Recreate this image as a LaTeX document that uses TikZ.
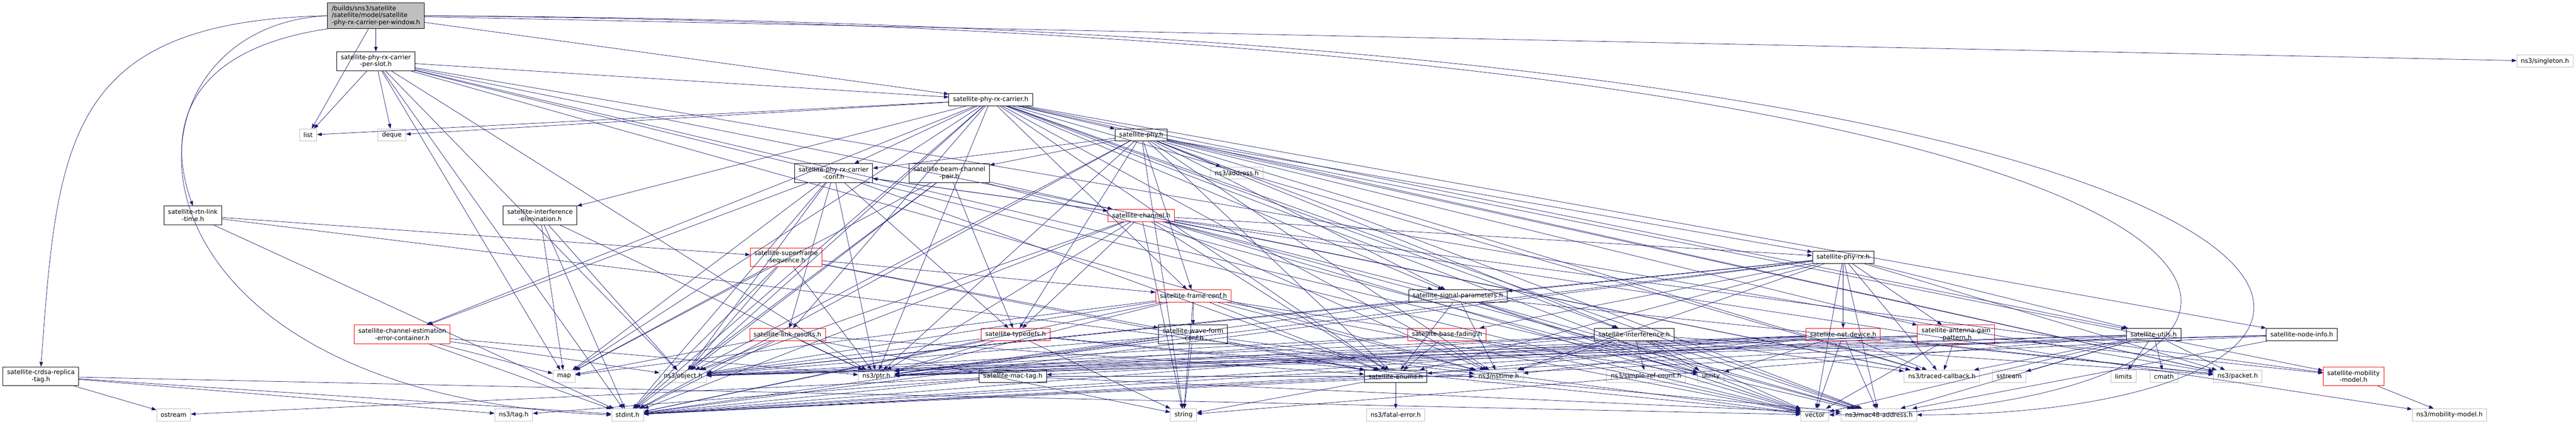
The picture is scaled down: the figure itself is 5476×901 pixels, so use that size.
\documentclass[tikz,border=0pt]{standalone}
\usepackage{fontspec}
\setmainfont{DejaVu Sans}
\usetikzlibrary{arrows.meta}
\definecolor{kante}{HTML}{191970}
\definecolor{grau}{HTML}{BFBFBF}

\begin{document}
\begin{tikzpicture}[x=0.75pt, y=-0.75pt,
    datei/.style={draw=black, fill=white, rectangle, line width=0.75pt, font=\fontsize{10}{11.25}\selectfont, inner xsep=6.5pt, inner ysep=2pt, minimum height=19.5pt, align=center},
    sysdatei/.style={datei, draw=grau},
    rotdatei/.style={datei, draw=red},
    wurzel/.style={datei, fill=grau, align=left, minimum height=41pt},
    zwei/.style={minimum height=30pt},
    dep/.style={draw=kante, line width=0.6pt, -{Triangle[length=7.5pt,width=5.5pt]}}]

    \useasboundingbox (0,0) rectangle (5476,901);

    % Wurzel
    \node[wurzel] (root) at (799,33.5) {/builds/sns3/satellite\\/satellite/model/satellite\\-phy-rx-carrier-per-window.h};

    % Ebene 2 bis 8
    \node[datei, zwei] (slot) at (799,130) {satellite-phy-rx-carrier\\-per-slot.h};
    \node[sysdatei] (singleton) at (5410,130) {ns3/singleton.h};
    \node[datei] (carrier) at (2106,212) {satellite-phy-rx-carrier.h};
    \node[sysdatei] (list) at (655,287) {list};
    \node[sysdatei] (deque) at (833,287) {deque};
    \node[datei] (phy) at (2426,287) {satellite-phy.h};
    \node[datei, zwei] (rxconf) at (1772,368) {satellite-phy-rx-carrier\\-conf.h};
    \node[datei, zwei] (beampair) at (2018,368) {satellite-beam-channel\\-pair.h};
    \node[sysdatei] (address) at (2629,368) {ns3/address.h};
    \node[datei, zwei] (rtntime) at (410,458) {satellite-rtn-link\\-time.h};
    \node[datei, zwei] (intelim) at (1148,458) {satellite-interference\\-elimination.h};
    \node[rotdatei] (channel) at (2426,458) {satellite-channel.h};
    \node[rotdatei, zwei] (superframe) at (1671,547) {satellite-superframe\\-sequence.h};
    \node[datei] (phyrx) at (3918,547) {satellite-phy-rx.h};
    \node[rotdatei] (frameconf) at (2537,629) {satellite-frame-conf.h};
    \node[datei] (sigparam) at (3099,629) {satellite-signal-parameters.h};

    % Ebene 9
    \node[rotdatei, zwei] (chestim) at (855,711) {satellite-channel-estimation\\-error-container.h};
    \node[rotdatei] (linkres) at (1674,711) {satellite-link-results.h};
    \node[rotdatei] (typedefs) at (2159,711) {satellite-typedefs.h};
    \node[datei, zwei] (waveform) at (2536,711) {satellite-wave-form\\-conf.h};
    \node[rotdatei] (basefading) at (3076,711) {satellite-base-fading.h};
    \node[datei] (interf) at (3474,711) {satellite-interference.h};
    \node[rotdatei] (netdev) at (3918,711) {satellite-net-device.h};
    \node[rotdatei, zwei] (antenna) at (4158,711) {satellite-antenna-gain\\-pattern.h};
    \node[datei] (utils) at (4578,711) {satellite-utils.h};
    \node[datei] (nodeinfo) at (4893,711) {satellite-node-info.h};

    % Ebene 10
    \node[datei, zwei] (crdsa) at (87,800) {satellite-crdsa-replica\\-tag.h};
    \node[sysdatei] (map) at (1199,800) {map};
    \node[sysdatei] (object) at (1452,800) {ns3/object.h};
    \node[sysdatei] (ptr) at (1863,800) {ns3/ptr.h};
    \node[datei] (mactag) at (2153,800) {satellite-mac-tag.h};
    \node[datei] (enums) at (2967,800) {satellite-enums.h};
    \node[sysdatei] (nstime) at (3186,800) {ns3/nstime.h};
    \node[sysdatei] (simpleref) at (3499,800) {ns3/simple-ref-count.h};
    \node[sysdatei] (utility) at (3637,800) {utility};
    \node[sysdatei] (traced) at (4128,800) {ns3/traced-callback.h};
    \node[sysdatei] (sstream) at (4271,800) {sstream};
    \node[sysdatei] (limits) at (4514,800) {limits};
    \node[sysdatei] (cmath) at (4600,800) {cmath};
    \node[sysdatei] (packet) at (4757,800) {ns3/packet.h};
    \node[rotdatei, zwei] (satmob) at (5003,800) {satellite-mobility\\-model.h};

    % Ebene 11
    \node[sysdatei] (ostream) at (369,882) {ostream};
    \node[sysdatei] (tag) at (1092,882) {ns3/tag.h};
    \node[sysdatei] (stdint) at (1334,882) {stdint.h};
    \node[sysdatei] (string) at (2516,882) {string};
    \node[sysdatei] (fatal) at (2967,882) {ns3/fatal-error.h};
    \node[sysdatei] (vector) at (3858,882) {vector};
    \node[sysdatei] (mac48) at (3994,882) {ns3/mac48-address.h};
    \node[sysdatei] (mobility) at (5207,882) {ns3/mobility-model.h};

    % Abhaengigkeiten der Wurzel (Boegen)
    \draw[dep] (root.west) .. controls (140,45) and (122,300) .. (crdsa.north);
    \draw[dep] (root.west) .. controls (220,55) and (200,840) .. (stdint.west);
    \draw[dep] (root.south west) .. controls (370,110) and (360,300) .. (rtntime.north);
    \draw[dep] (root.east) .. controls (5300,55) and (5330,880) .. (mac48.east);
    \draw[dep] (root.east) .. controls (5200,70) and (5150,870) .. (vector.east);
    \path (root) edge[dep] (slot) edge[dep] (list) edge[dep] (carrier) edge[dep] (singleton);

    % weitere Abhaengigkeiten
    \path (slot) edge[dep] (carrier) edge[dep] (list) edge[dep] (deque) edge[dep] (map) edge[dep] (stdint)
        edge[dep] (object) edge[dep] (ptr) edge[dep] (nstime) edge[dep] (traced) edge[dep] (packet)
        edge[dep] (vector) edge[dep] (mac48);
    \path (carrier) edge[dep] (phy) edge[dep] (rxconf) edge[dep] (intelim) edge[dep] (chestim) edge[dep] (linkres)
        edge[dep] (sigparam) edge[dep] (interf) edge[dep] (utils) edge[dep] (nodeinfo) edge[dep] (enums)
        edge[dep] (frameconf) edge[dep] (object) edge[dep] (ptr) edge[dep] (packet) edge[dep] (nstime)
        edge[dep] (traced) edge[dep] (mac48) edge[dep] (list) edge[dep] (deque) edge[dep] (map)
        edge[dep] (stdint) edge[dep] (vector);
    \path (phy) edge[dep] (address) edge[dep] (rxconf) edge[dep] (beampair) edge[dep] (phyrx) edge[dep] (sigparam)
        edge[dep] (interf) edge[dep] (frameconf) edge[dep] (typedefs) edge[dep] (string) edge[dep] (object)
        edge[dep] (ptr) edge[dep] (nstime) edge[dep] (packet) edge[dep] (mac48) edge[dep] (traced)
        edge[dep] (enums) edge[dep] (stdint) edge[dep] (antenna) edge[dep] (satmob);
    \path (rxconf) edge[dep] (channel) edge[dep] (linkres) edge[dep] (typedefs) edge[dep] (chestim) edge[dep] (object)
        edge[dep] (ptr) edge[dep] (enums) edge[dep] (stdint) edge[dep] (map);
    \path (beampair) edge[dep] (channel) edge[dep] (typedefs) edge[dep] (map) edge[dep] (object) edge[dep] (stdint)
        edge[dep] (utility);
    \path (channel) edge[dep] (rxconf) edge[dep] (phyrx) edge[dep] (sigparam) edge[dep] (typedefs) edge[dep] (object)
        edge[dep] (ptr) edge[dep] (nstime) edge[dep] (mac48) edge[dep] (traced) edge[dep] (enums)
        edge[dep] (stdint) edge[dep] (vector) edge[dep] (satmob) edge[dep] (mobility) edge[dep] (string);
    \path (rtntime) edge[dep] (superframe) edge[dep] (stdint) edge[dep] (nstime);
    \path (intelim) edge[dep] (map) edge[dep] (stdint) edge[dep] (object) edge[dep] (ptr);
    \path (superframe) edge[dep] (frameconf) edge[dep] (waveform) edge[dep] (object) edge[dep] (ptr)
        edge[dep] (stdint) edge[dep] (enums) edge[dep] (map);
    \path (phyrx) edge[dep] (sigparam) edge[dep] (basefading) edge[dep] (netdev) edge[dep] (antenna) edge[dep] (object)
        edge[dep] (ptr) edge[dep] (nstime) edge[dep] (mac48) edge[dep] (traced) edge[dep] (packet)
        edge[dep] (enums) edge[dep] (stdint) edge[dep] (vector) edge[dep] (utils);
    \path (sigparam) edge[dep] (enums) edge[dep] (nstime) edge[dep] (object) edge[dep] (ptr) edge[dep] (packet)
        edge[dep] (vector) edge[dep] (utility) edge[dep] (mac48);
    \path (frameconf) edge[dep] (waveform) edge[dep] (object) edge[dep] (ptr) edge[dep] (string) edge[dep] (stdint)
        edge[dep] (map) edge[dep] (vector) edge[dep] (enums) edge[dep] (nstime) edge[dep] (utility);
    \path (chestim) edge[dep] (map) edge[dep] (stdint) edge[dep] (object) edge[dep] (ptr);
    \path (linkres) edge[dep] (object) edge[dep] (ptr) edge[dep] (stdint) edge[dep] (map) edge[dep] (enums)
        edge[dep] (string);
    \path (typedefs) edge[dep] (ptr) edge[dep] (object) edge[dep] (string) edge[dep] (stdint) edge[dep] (vector)
        edge[dep] (mac48);
    \path (waveform) edge[dep] (object) edge[dep] (ptr) edge[dep] (string) edge[dep] (stdint) edge[dep] (enums)
        edge[dep] (vector);
    \path (basefading) edge[dep] (enums) edge[dep] (vector) edge[dep] (object) edge[dep] (ptr);
    \path (interf) edge[dep] (simpleref) edge[dep] (utility) edge[dep] (nstime) edge[dep] (object) edge[dep] (ptr)
        edge[dep] (packet) edge[dep] (vector) edge[dep] (mac48) edge[dep] (stdint) edge[dep] (traced);
    \path (netdev) edge[dep] (mac48) edge[dep] (traced) edge[dep] (utility) edge[dep] (vector) edge[dep] (object)
        edge[dep] (ptr) edge[dep] (packet) edge[dep] (enums) edge[dep] (stdint) edge[dep] (nstime)
        edge[dep] (mactag);
    \path (antenna) edge[dep] (traced) edge[dep] (satmob) edge[dep] (vector) edge[dep] (object) edge[dep] (ptr)
        edge[dep] (stdint);
    \path (utils) edge[dep] (sstream) edge[dep] (limits) edge[dep] (cmath) edge[dep] (packet) edge[dep] (traced)
        edge[dep] (string) edge[dep] (vector) edge[dep] (stdint) edge[dep] (mac48) edge[dep] (object)
        edge[dep] (ptr);
    \path (nodeinfo) edge[dep] (mac48) edge[dep] (object) edge[dep] (ptr) edge[dep] (stdint);
    \path (crdsa) edge[dep] (ostream) edge[dep] (tag) edge[dep] (stdint) edge[dep] (vector);
    \path (mactag) edge[dep] (tag) edge[dep] (ostream) edge[dep] (stdint) edge[dep] (mac48) edge[dep] (nstime);
    \path (enums) edge[dep] (fatal) edge[dep] (string) edge[dep] (stdint);
    \path (satmob) edge[dep] (mobility);

\end{tikzpicture}
\end{document}
